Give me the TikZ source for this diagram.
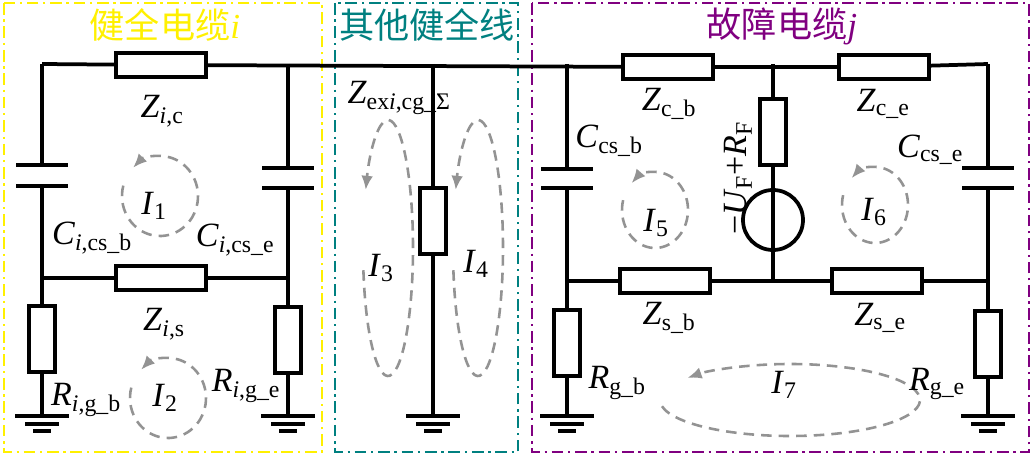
\documentclass[tikz,border=0pt]{standalone}
\usepackage{fontspec}
\usetikzlibrary{arrows.meta}
\setmainfont{Liberation Serif}
\newfontfamily\cjk{Noto Sans CJK SC}
\definecolor{boxyellow}{RGB}{255,240,0}
\definecolor{boxteal}{RGB}{0,128,128}
\definecolor{boxpurple}{RGB}{128,0,128}
\newcommand\lb[2]{\textit{#1}\textsubscript{#2}}
\begin{document}
\begin{tikzpicture}[x=0.03cm,y=-0.03cm,
        every node/.style={font=\fontsize{29}{31}\selectfont},
        wire/.style={line width=3.2pt},
        res/.style={draw, line width=3.2pt, rectangle, inner sep=0pt, fill=white},
        hres/.style={res, minimum width=2.7cm, minimum height=0.72cm},
        vres/.style={res, minimum width=0.78cm, minimum height=1.98cm},
        frame/.style={line width=2.4pt, dash pattern=on 10pt off 4pt on 2pt off 4pt},
        loopc/.style={draw=gray!85, line width=2.2pt, dash pattern=on 9pt off 6pt, -{Latex[length=12pt,width=10pt]}},
        title/.style={font=\cjk\fontsize{30}{32}\selectfont},
    ]
    \useasboundingbox (0,0) rectangle (1033,454);
    % frames
    \draw[frame, boxyellow] (4,3) rectangle (322,452);
    \draw[frame, boxteal] (335,3) rectangle (518,452);
    \draw[frame, boxpurple] (532,3) rectangle (1029,452);
    \node[title, boxyellow] (t1) at (165,25) {健全电缆{\rmfamily\itshape i}};
    \node[title, boxteal] (t2) at (427,25) {其他健全线};
    \node[title, boxpurple] (t3) at (782,26) {故障电缆{\rmfamily\itshape j}};

    % resistors
    \node[hres] (Zic) at (161,65) {};
    \node[hres] (Zis) at (161,278) {};
    \node[vres] (Rib) at (42,339) {};
    \node[vres] (Rie) at (288,340) {};
    \node[vres] (Zex) at (433,221) {};
    \node[hres] (Zcb) at (668,67) {};
    \node[hres] (Zce) at (884,67) {};
    \node[hres] (Zsb) at (665,281) {};
    \node[hres] (Zse) at (877,281) {};
    \node[vres] (RF) at (773,132) {};
    \node[vres] (Rgb) at (567,343) {};
    \node[vres] (Rge) at (988,344) {};
    \node[draw, circle, line width=3.2pt, minimum size=1.8cm] (UF) at (773,220) {};

    % junctions
    \foreach \n/\x/\y in {a/42/64, b/288/64, c/433/64, d/567/64, e/773/64, f/988/64,
        g/42/278, h/288/278, k/567/281, l/773/281, m/988/281} {
        \coordinate (\n) at (\x,\y);
    }

    % wires
    \draw[wire] (a) -- (Zic) -- (Zcb) -- (Zce) -- (f);
    \draw[wire] (g) -- (Zis) -- (h);
    \draw[wire] (k) -- (Zsb) -- (l) -- (Zse) -- (m);
    \draw[wire] (e) -- (RF) -- (UF.north) -- (l);
    \draw[wire] (c) -- (Zex);
    % capacitors
    \foreach \n/\x/\top/\pa/\pb in {a/42/64/165/186, b/288/64/168/188, d/567/64/169/188, f/988/64/168/188} {
        \draw[wire] (\x,\top) -- (\x,\pa);
        \draw[wire] (\x-26,\pa) -- (\x+26,\pa);
        \draw[wire] (\x-26,\pb) -- (\x+26,\pb);
    }
    \draw[wire] (42,186) -- (Rib);
    \draw[wire] (288,188) -- (Rie);
    \draw[wire] (567,188) -- (Rgb);
    \draw[wire] (988,188) -- (Rge);
    % grounds
    \foreach \n/\x in {Rib/42, Rie/288, Zex/433, Rgb/567, Rge/988} {
        \draw[wire] (\n) -- (\x,416);
        \draw[wire] (\x-27,416) -- (\x+27,416);
        \draw[wire] (\x-17,424) -- (\x+17,424);
        \draw[wire] (\x-9,431) -- (\x+9,431);
    }

    % loop currents
    \begin{scope}[y=0.03cm]
    \draw[loopc] (160,-196) ++(165:38 and 40) arc[start angle=165, end angle=495, x radius=38, y radius=40];
    \draw[loopc] (168,-398) ++(165:38 and 40) arc[start angle=165, end angle=495, x radius=38, y radius=40];
    \draw[loopc] (388,-248) ++(190:25 and 128) arc[start angle=190, end angle=513, x radius=25, y radius=128];
    \draw[loopc] (478,-248) ++(190:25 and 128) arc[start angle=190, end angle=513, x radius=25, y radius=128];
    \draw[loopc] (655,-210) ++(165:33 and 38) arc[start angle=165, end angle=495, x radius=33, y radius=38];
    \draw[loopc] (875,-205) ++(165:33 and 38) arc[start angle=165, end angle=495, x radius=33, y radius=38];
    \draw[loopc] (790,-400) ++(190:130 and 36) arc[start angle=190, end angle=502, x radius=130, y radius=36];
    \end{scope}

    % labels
    \node (lZic) at (162,111) {\lb{Z}{\textit{i},c}};
    \node (lCib) at (92,238) {\lb{C}{\textit{i},cs\_b}};
    \node (lCie) at (235,240) {\lb{C}{\textit{i},cs\_e}};
    \node (lI1) at (154,206) {\lb{I}{1}};
    \node (lZis) at (164,324) {\lb{Z}{\textit{i},s}};
    \node (lI2) at (165,398) {\lb{I}{2}};
    \node (lRib) at (86,400) {\lb{R}{\textit{i},g\_b}};
    \node (lRie) at (246,386) {\lb{R}{\textit{i},g\_e}};
    \node (lZex) at (399,98) {\lb{Z}{ex\textit{i},cg\_Σ}};
    \node (lI3) at (381,268) {\lb{I}{3}};
    \node (lI4) at (476,264) {\lb{I}{4}};
    \node (lZcb) at (669,104) {\lb{Z}{c\_b}};
    \node (lCcb) at (609,141) {\lb{C}{cs\_b}};
    \node (lI5) at (656,223) {\lb{I}{5}};
    \node[rotate=90] (lUF) at (738,178) {−\lb{U}{F}+\lb{R}{F}};
    \node (lI6) at (874,212) {\lb{I}{6}};
    \node (lZce) at (883,104) {\lb{Z}{c\_e}};
    \node (lCce) at (930,150) {\lb{C}{cs\_e}};
    \node (lZsb) at (669,318) {\lb{Z}{s\_b}};
    \node (lZse) at (880,318) {\lb{Z}{s\_e}};
    \node (lRgb) at (617,383) {\lb{R}{g\_b}};
    \node (lI7) at (784,385) {\lb{I}{7}};
    \node (lRge) at (937,384) {\lb{R}{g\_e}};
\end{tikzpicture}
\end{document}
